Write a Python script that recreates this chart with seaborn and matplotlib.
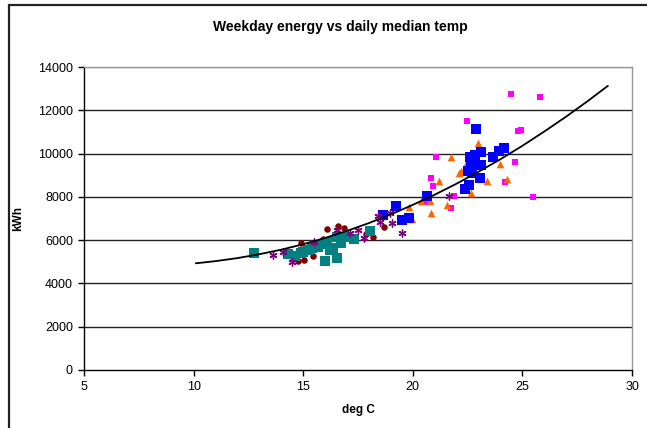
import matplotlib
matplotlib.use("Agg")
import matplotlib.pyplot as plt
from matplotlib.patches import Rectangle
import numpy as np
import pandas as pd
import seaborn as sns

# --- data (deg C, kWh) ---
mag_x = [24.47, 25.80, 22.46, 24.78, 24.92, 21.06, 24.66, 20.85, 20.94, 24.22, 21.90, 25.47, 20.60, 21.74]
mag_y = [12750, 12600, 11520, 11060, 11090, 9830, 9625, 8880, 8500, 8700, 8025, 7980, 7780, 7485]

org_x = [22.96, 21.73, 22.46, 23.98, 22.20, 22.09, 21.18, 23.37, 24.28, 22.67, 19.83, 20.36, 20.78, 21.58, 20.81, 19.98]
org_y = [10500, 9830, 9625, 9520, 9210, 9085, 8730, 8730, 8810, 8160, 7550, 7820, 7820, 7640, 7270, 6960]

blue_x = [22.88, 23.11, 24.17, 23.95, 23.67, 22.61, 22.84, 22.64, 23.11, 22.71, 23.07, 22.55, 22.39,
          20.66, 19.25, 18.65, 19.52, 19.81, 22.70, 22.50]
blue_y = [11120, 10050, 10240, 10120, 9860, 9830, 9930, 9420, 9470, 9080, 8850, 8550, 8350,
          8050, 7560, 7150, 6930, 7040, 9650, 9200]

red_x = [16.07, 16.59, 16.86, 14.88, 14.78, 15.04, 15.43, 15.89, 18.69, 18.17, 17.85, 16.43]
red_y = [6500, 6670, 6550, 5880, 5040, 5080, 5270, 6040, 6590, 6130, 6280, 6160]

teal_x = [12.77, 14.32, 14.63, 14.90, 15.00, 15.39, 15.69, 16.01, 16.56, 16.07, 16.22, 16.71,
          16.53, 16.98, 17.32, 18.05, 16.37, 15.20, 15.90]
teal_y = [5390, 5360, 5270, 5420, 5470, 5620, 5700, 5040, 5190, 5930, 5540, 5850,
          6160, 6130, 6040, 6420, 5620, 5550, 5800]

purp_x = [13.60, 14.47, 14.09, 16.53, 17.52, 17.79, 18.43, 18.96, 19.05, 18.50, 19.51, 21.63, 17.13, 15.50]
purp_y = [5310, 5000, 5470, 6450, 6450, 6080, 7120, 7240, 6770, 6820, 6340, 8040, 6310, 5900]

# trend line, read at intervals along the drawn curve
trend_x = [10.1, 11, 12, 13, 14, 15, 16, 17, 18, 19, 20, 21, 22, 23, 24, 25, 26, 27, 28, 28.9]
trend_y = [4930, 5030, 5170, 5350, 5560, 5810, 6100, 6430, 6790, 7190, 7630, 8100, 8610, 9160,
           9740, 10360, 11020, 11710, 12440, 13130]

sns.set_style("white")
plt.rcParams["font.family"] = ["Liberation Sans", "DejaVu Sans"]
plt.rcParams["text.color"] = "black"
plt.rcParams["axes.labelcolor"] = "black"
plt.rcParams["xtick.color"] = "black"
plt.rcParams["ytick.color"] = "black"

fig = plt.figure(figsize=(6.47, 4.28), dpi=100)
ax = fig.add_axes([84 / 647, 1 - 370 / 428, (632 - 84) / 647, (370 - 67) / 428])

# chart-area frame (clipped on right/bottom like the source)
fig.patches.append(Rectangle((9 / 647, -0.1), 1.2, 1 - 5 / 428 + 0.1,
                             transform=fig.transFigure, fill=False,
                             edgecolor="#222222", linewidth=1.6))

for yv in range(2000, 14001, 2000):
    ax.axhline(yv, color="#222222" if yv < 14000 else "#888888", linewidth=1.0, zorder=1)

series = [
    (mag_x, mag_y, "#FF00FF", "s", 24),
    (org_x, org_y, "#FF6600", "^", 30),
    (blue_x, blue_y, "#0000FF", "s", 48),
    (red_x, red_y, "#800000", "o", 22),
    (teal_x, teal_y, "#008080", "s", 48),
]
for xs, ys, col, mk, size in series:
    sns.scatterplot(x=xs, y=ys, ax=ax, color=col, marker=mk, s=size,
                    linewidth=0, edgecolor=col, zorder=3)

sns.scatterplot(x=purp_x, y=purp_y, ax=ax, color="#800080", marker=(6, 2, 0),
                s=26, linewidth=1.0, zorder=4)

sns.lineplot(x=trend_x, y=trend_y, ax=ax, color="black", linewidth=1.3,
             sort=False, estimator=None, zorder=5)

ax.set_xlim(5, 30)
ax.set_ylim(0, 14000)
ax.set_xticks([5, 10, 15, 20, 25, 30])
ax.set_yticks(range(0, 14001, 2000))
ax.tick_params(axis="both", direction="out", length=4, width=1, color="black",
               labelsize=9, pad=4, bottom=True, left=True)

for side in ["left", "bottom"]:
    ax.spines[side].set_color("black")
    ax.spines[side].set_linewidth(1.0)
for side in ["top", "right"]:
    ax.spines[side].set_color("#999999")
    ax.spines[side].set_linewidth(1.0)

ax.set_xlabel("deg C", fontsize=8.5, fontweight="bold", labelpad=8)
ax.set_ylabel("kWh", fontsize=8.5, fontweight="bold", labelpad=10)
fig.text(340 / 647, 1 - 27 / 428, "Weekday energy vs daily median temp",
         ha="center", va="center", fontsize=10, fontweight="bold")

fig.savefig("out.png", dpi=100)
